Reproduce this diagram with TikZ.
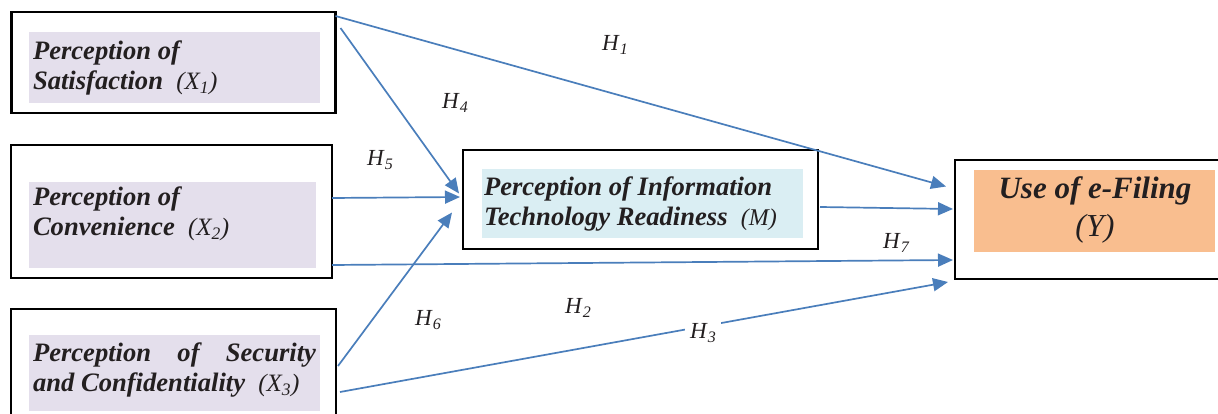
\documentclass[tikz,border=0pt]{standalone}
\usepackage{fontspec}
\setmainfont{Liberation Serif}
\usetikzlibrary{calc,arrows.meta}
\definecolor{arrowblue}{HTML}{4A7EBB}
\definecolor{xfill}{HTML}{E4DFEC}
\definecolor{mfill}{HTML}{DAEEF3}
\definecolor{yfill}{HTML}{F9BE8F}
\definecolor{txt}{HTML}{231F20}
\newcommand{\hyptxt}[1]{\textit{H}\raisebox{-4pt}{\fontsize{16}{16}\selectfont\itshape #1}}
\newcommand{\vartxt}[2]{{\mdseries\fontsize{25}{26}\selectfont (#1\textsubscript{\itshape #2})}}
\begin{document}
\begin{tikzpicture}[x=1pt,y=-1pt,
  outerbox/.style={draw=black,line width=2.6pt,fill=white,inner sep=0pt,outer sep=0pt},
  fillbox/.style={inner sep=0pt,outer sep=0pt,draw=none},
  boxtext/.style={inner sep=0pt,outer sep=0pt,text=txt,font=\fontsize{26.6}{30}\selectfont\bfseries\itshape,align=left},
  hyp/.style={inner sep=1pt,font=\fontsize{23}{24}\selectfont,text=txt},
  conn/.style={draw=arrowblue,line width=1.7pt,-{Triangle[length=15pt,width=13pt]}}]
\useasboundingbox (0,0) rectangle (1218,414);
\fill[white] (0,0) rectangle (1218,414);
% X1
\node[outerbox,minimum width=324pt,minimum height=101pt] (x1) at (173.5,62.5) {};
\node[fillbox,fill=xfill,minimum width=291pt,minimum height=71pt] (x1f) at (174.5,67.5) {};
\node[boxtext,anchor=west] (x1t) at (33,68) {Perception of\\Satisfaction\ \ \vartxt{X}{1}};
% X2
\node[outerbox,minimum width=321pt,minimum height=133pt] (x2) at (171.5,211.5) {};
\node[fillbox,fill=xfill,minimum width=287pt,minimum height=86pt] (x2f) at (172.5,225) {};
\node[boxtext,anchor=west] (x2t) at (33,214) {Perception of\\Convenience\ \ \vartxt{X}{2}};
% X3
\node[outerbox,minimum width=325pt,minimum height=131pt] (x3) at (173.5,374.5) {};
\node[fillbox,fill=xfill,minimum width=291pt,minimum height=76pt] (x3f) at (174.5,373) {};
\node[boxtext,anchor=west] (x3t) at (33,370) {\makebox[283pt][s]{Perception\hfill of\hfill Security}\\and Confidentiality\ \ \vartxt{X}{3}};
% M
\node[outerbox,minimum width=355pt,minimum height=99pt] (m) at (640.5,199.5) {};
\node[fillbox,fill=mfill,minimum width=321pt,minimum height=69pt] (mf) at (642.5,204) {};
\node[boxtext,anchor=west] (mt) at (484,204) {Perception of Information\\Technology Readiness\ \ {\mdseries\fontsize{24}{26}\selectfont (M)}};
% Y
\node[outerbox,minimum width=270pt,minimum height=119pt] (y) at (1090,219.5) {};
\node[fillbox,fill=yfill,minimum width=241pt,minimum height=82pt] (yf) at (1094.5,211) {};
\node[boxtext,align=center,font=\fontsize{31}{38}\selectfont\bfseries\itshape] (yt) at (1095,210) {Use of e-Filing\\{\mdseries\fontsize{32}{36}\selectfont (Y)}};
% connectors
\draw[conn] ($(x1.north east)+(0,4)$) -- ($(y.west)+(-9,-33)$);
\draw[conn] ($(x1.north east)+(5,16)$) -- ($(m.west)+(-4,-6)$);
\draw[conn] ($(x2.east)+(0,-13.5)$) -- ($(m.west)+(-3,-2.5)$);
\draw[conn] ($(x3.north east)+(2,57)$) -- ($(m.west)+(-11,13)$);
\draw[conn] ($(m.east)+(2,7.5)$) -- ($(y.west)+(-2,-10.5)$);
\draw[conn] ($(x2.east)+(0,53.5)$) -- ($(y.west)+(-2,40.5)$);
\draw[conn] ($(x3.north east)+(4,83)$) -- ($(y.west)+(-7,62.5)$);
% labels
\node[hyp] (l1) at (615,45) {\hyptxt{1}};
\node[hyp] (l4) at (455,103) {\hyptxt{4}};
\node[hyp] (l5) at (380,160) {\hyptxt{5}};
\node[hyp] (l6) at (428,320) {\hyptxt{6}};
\node[hyp] (l2) at (578,308) {\hyptxt{2}};
\node[hyp,fill=white,inner sep=5pt] (l3) at (703,333) {\hyptxt{3}};
\node[hyp] (l7) at (896,243) {\hyptxt{7}};
\end{tikzpicture}
\end{document}
